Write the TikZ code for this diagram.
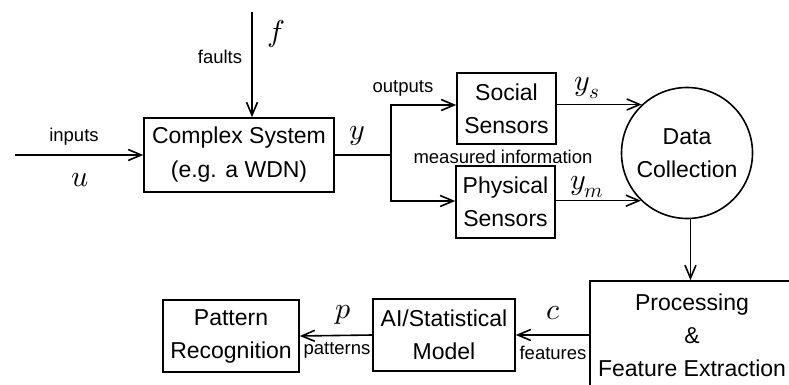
\documentclass[tikz,border=0pt]{standalone}
\usepackage{fontspec}
\usepackage{unicode-math}
\setmainfont{Liberation Sans}
\usetikzlibrary{arrows.meta}

\tikzset{
  blk/.style={draw, line width=1.6pt, inner sep=0pt, align=center,
    font=\fontsize{23}{33}\selectfont},
  lbl/.style={inner sep=0pt, font=\fontsize{18.5}{20}\selectfont},
  sym/.style={inner sep=0pt, font=\fontsize{30}{30}\selectfont},
  wire/.style={line width=1.6pt},
  flow/.style={wire, -{Straight Barb[length=13pt,width=11pt,line width=1.6pt]}},
}

\begin{document}
\begin{tikzpicture}[x=1pt, y=-1pt]
  \useasboundingbox (0,0) rectangle (789,385);
  \clip (0,0) rectangle (789,385);

  % blocks
  \node[blk, minimum width=190pt, minimum height=74pt] (cs) at (239,155)
    {Complex System\\[1pt](e.g. a WDN)};
  \node[blk, minimum width=99pt, minimum height=71pt] (soc) at (506.5,108.5)
    {Social\\Sensors};
  \node[blk, minimum width=99pt, minimum height=72pt] (phy) at (505.5,202)
    {Physical\\Sensors};
  \node[blk, circle, minimum size=131pt] (dc) at (687,153)
    {Data\\Collection};
  \node[blk, minimum width=204pt, minimum height=108pt] (pfe) at (692,335)
    {Processing\\\&\\Feature Extraction};
  \node[blk, minimum width=142pt, minimum height=72pt] (ai) at (444,335)
    {AI/Statistical\\Model};
  \node[blk, minimum width=136pt, minimum height=72pt] (pr) at (231,336)
    {Pattern\\Recognition};

  % free ends and branch points
  \coordinate (in) at (15,155);
  \coordinate (ft) at (252,12);
  \coordinate (sp) at (391,155);
  \coordinate (spt) at (391,105);
  \coordinate (spb) at (391,201);

  % connectors
  \draw[flow] (in) -- (cs.west);
  \draw[flow] (ft) -- (ft |- cs.north);
  \draw[wire] (cs.east) -- (sp);
  \draw[flow] (sp) -- (spt) -- (spt -| soc.west);
  \draw[flow] (sp) -- (spb) -- (spb -| phy.west);
  \draw[flow] (dc.133.3 -| soc.east) -- (dc.133.3);
  \draw[flow] (dc.226.7 -| phy.east) -- (dc.226.7);
  \draw[flow] (dc.273.5) -- (dc.273.5 |- pfe.north);
  \draw[flow] (pfe.west) -- (ai.east);
  \draw[flow] (ai.west) -- (pr.east);

  % labels
  \node[lbl] (lfaults) at (220,57) {faults};
  \node[sym] (lf) at (276,34) {$f$};
  \node[lbl] (linputs) at (74,137) {inputs};
  \node[sym] (lu) at (80,180) {$u$};
  \node[sym] (ly) at (357,136) {$y$};
  \node[lbl] (louts) at (403,88) {outputs};
  \node[lbl] (lmeas) at (503,157) {measured information};
  \node[sym] (lys) at (587,88) {$y_s$};
  \node[sym] (lym) at (587,187) {$y_m$};
  \node[sym] (lc) at (553,313) {$c$};
  \node[lbl] (lfeat) at (553,353) {features};
  \node[sym] (lp) at (343,315) {$p$};
  \node[lbl] (lpat) at (337,350) {patterns};
\end{tikzpicture}
\end{document}
